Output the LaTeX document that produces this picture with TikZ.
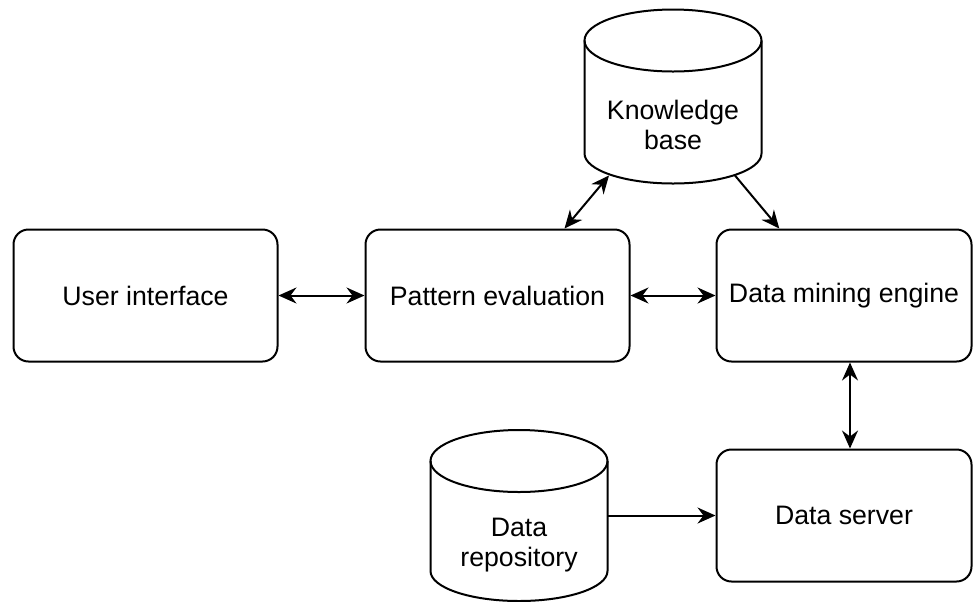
\documentclass[tikz,border=0pt]{standalone}
\usepackage{fontspec}
\setmainfont{Liberation Sans}
\usepackage{tikz}
\usetikzlibrary{arrows.meta, positioning, calc}

\tikzset{
  block/.style={draw, line width=1pt, rounded corners=7.5pt, minimum width=132pt,
    minimum height=66pt, inner sep=2pt, align=center},
  store/.style={minimum width=88.5pt, minimum height=87pt, inner sep=0pt, outer sep=0pt},
  storelabel/.style={align=center, font=\fontsize{13.35pt}{15pt}\selectfont},
  dbline/.style={line width=1pt},
  link/.style={line width=1pt, -{Stealth[length=9pt, width=8pt, inset=3pt]}},
  dlink/.style={line width=1pt, {Stealth[length=9pt, width=8pt, inset=3pt]}-{Stealth[length=9pt, width=8pt, inset=3pt]}}
}

\begin{document}
\begin{tikzpicture}[font=\fontsize{13.35pt}{15pt}\selectfont]
    \useasboundingbox (0,0) rectangle (487pt,-300.5pt);
    \node[block] (ui) at (72.75pt,-147.75pt) {User interface};
    \node[block, right=43pt of ui] (pe) {Pattern evaluation};
    \node[block, minimum width=127.5pt, right=42.5pt of pe] (dme) {Data mining engine};
    \node[block, minimum width=127.5pt, below=43pt of dme] (ds) {Data server};
    \coordinate (gap) at ($(pe.north east)!0.5!(dme.north west)$);
    \node[store, above=22.5pt of gap,
      label={[storelabel, yshift=-14pt]center:Knowledge\\base}] (kb) {};
    \node[store, minimum height=85.5pt, left=54pt of ds,
      label={[storelabel, yshift=-15pt]center:Data\\repository}] (dr) {};
    % cylinders
    \foreach \db in {kb, dr} {
      \draw[dbline] ([yshift=-15.5pt]\db.north) ellipse [x radius=44.25pt, y radius=15.5pt];
      \draw[dbline] ([yshift=-15.5pt]\db.north west) -- ([yshift=15pt]\db.south west)
        arc [start angle=180, end angle=360, x radius=44.25pt, y radius=15pt]
        -- ([yshift=-15.5pt]\db.north east);
    }
    \draw[dlink] (ui) -- (pe);
    \draw[dlink] (pe) -- (dme);
    \draw[dlink] ([shift={(-32pt,4pt)}]kb.south) -- (pe.45);
    \draw[link] ([shift={(31pt,4pt)}]kb.south) -- (dme.134);
    \draw[dlink] ([xshift=3pt]dme.south) -- ([xshift=3pt]ds.north);
    \draw[link] (dr.east) -- (dr.east -| ds.west);
\end{tikzpicture}
\end{document}
